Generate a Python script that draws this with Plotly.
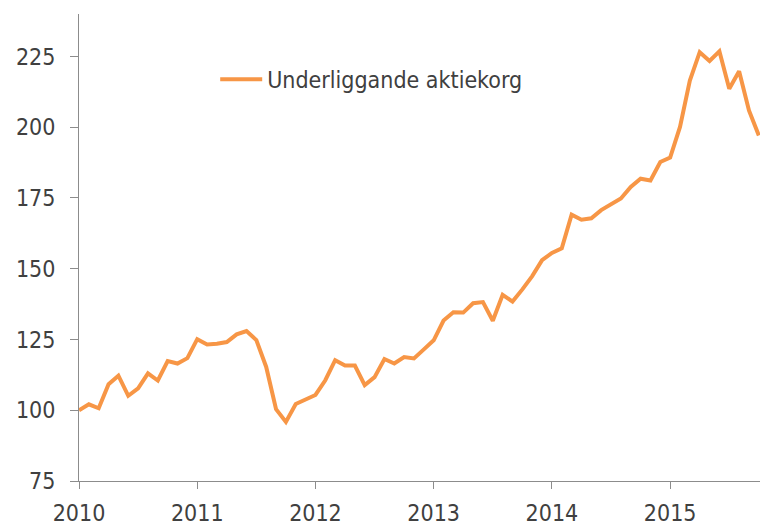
import plotly.graph_objects as go

start_year = 2010
values = [
    100.0, 102.1, 100.7, 109.2, 112.2, 105.1, 107.7, 113.0, 110.5, 117.4, 116.5, 118.4,
    125.1, 123.2, 123.5, 124.1, 126.8, 128.0, 124.8, 115.3, 100.4, 95.9, 102.2, 103.7,
    105.4, 110.6, 117.7, 115.8, 115.8, 108.9, 111.7, 118.1, 116.5, 118.8, 118.3, 121.5,
    124.7, 131.7, 134.6, 134.5, 137.8, 138.2, 131.6, 140.8, 138.4, 142.7, 147.4, 153.0,
    155.6, 157.2, 169.1, 167.3, 167.8, 170.7, 172.7, 174.8, 178.9, 181.8, 181.2, 187.7,
    189.3, 200.1, 216.5, 226.5, 223.4, 226.8, 213.6, 219.8, 205.9, 197.1,
]
x_dates = [start_year + i / 12 for i in range(len(values))]

year_ticks = [2010, 2011, 2012, 2013, 2014, 2015]
year_labels = [str(y) for y in year_ticks]
y_ticks = [75, 100, 125, 150, 175, 200, 225]
series_name = "Underliggande aktiekorg"

FONT = "DejaVu Sans Condensed, Liberation Sans Narrow, sans-serif"
AXIS = "#8c8c8c"

fig = go.Figure()
fig.add_trace(go.Scatter(
    x=x_dates, y=values, mode="lines", name=series_name,
    line=dict(color="#F79646", width=4), showlegend=True,
))

fig.update_layout(
    width=760, height=525,
    margin=dict(l=79, r=0, t=14, b=44),
    paper_bgcolor="white", plot_bgcolor="white",
    font=dict(family=FONT, size=23, color="#404040"),
    showlegend=True,
    legend=dict(x=0.2, y=0.86, xanchor="left", yanchor="middle", itemwidth=42,
                bgcolor="rgba(0,0,0,0)", font=dict(size=23, color="#404040")),
    xaxis=dict(range=[2010, 2015.76], tickvals=year_ticks, ticktext=year_labels,
               showgrid=False, zeroline=False, showline=True, linecolor=AXIS,
               linewidth=1, ticks="outside", ticklen=7, tickcolor=AXIS,
               ticklabelstandoff=4, automargin=False),
    yaxis=dict(range=[75, 240], tickvals=y_ticks, showgrid=False, zeroline=False,
               showline=True, linecolor=AXIS, linewidth=1, ticks="outside",
               ticklen=8, tickcolor=AXIS, ticklabelstandoff=10, automargin=False),
)

fig.write_html(
    "out.html",
    config={"displayModeBar": False},
    post_script="document.documentElement.style.margin='0';"
                "document.body.style.margin='0';"
                "document.body.style.overflow='hidden';",
)
